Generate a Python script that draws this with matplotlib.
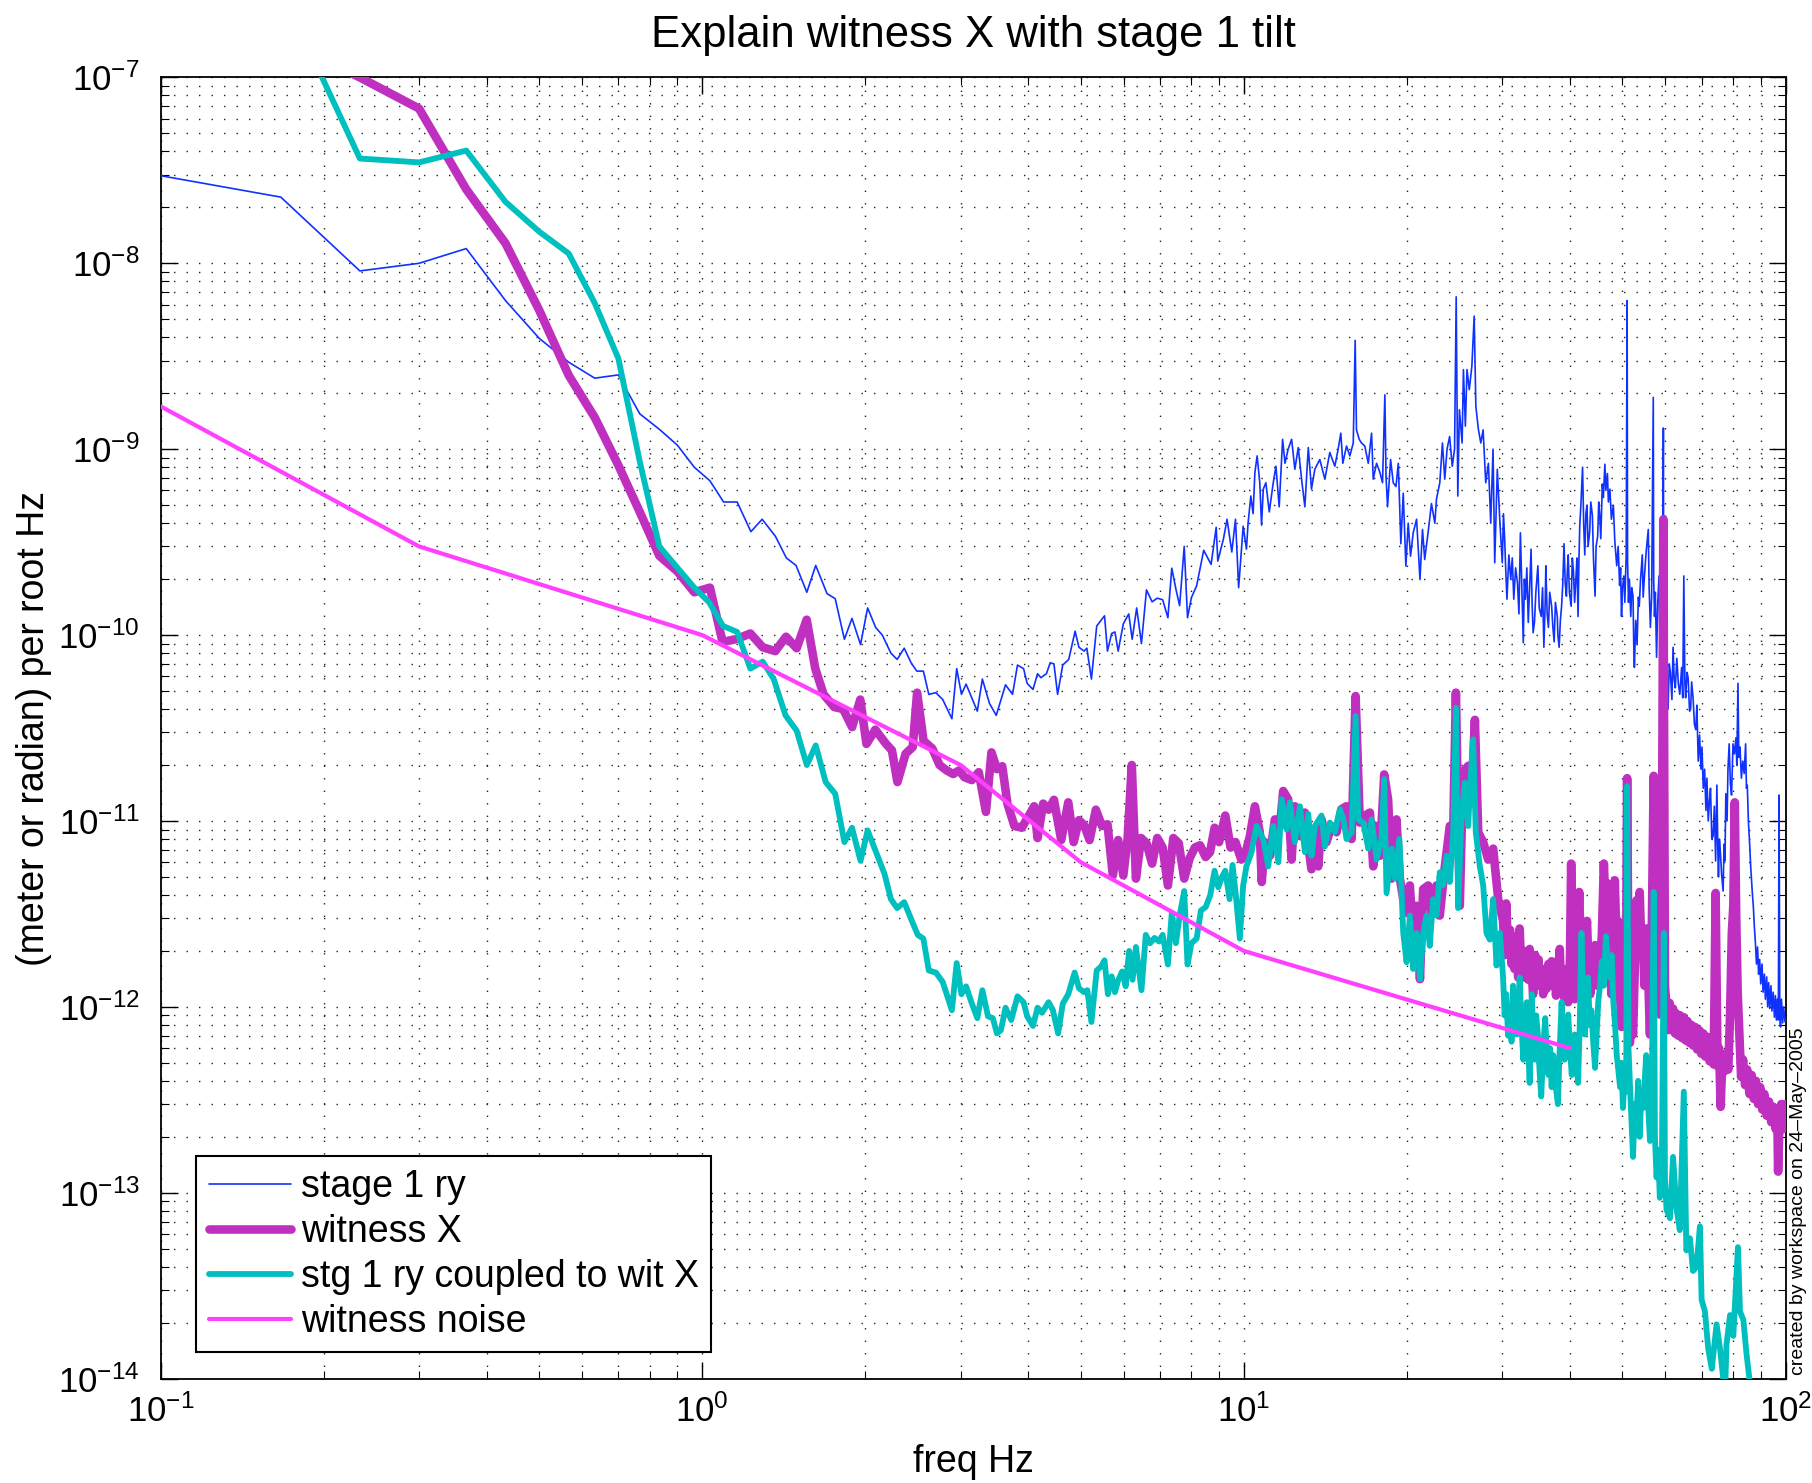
import numpy as np
import matplotlib
matplotlib.use("Agg")
import matplotlib.pyplot as plt
from matplotlib.ticker import LogLocator, NullFormatter

plt.rcParams['font.family'] = ['Liberation Sans', 'DejaVu Sans']
plt.rcParams['mathtext.fontset'] = 'custom'
plt.rcParams['mathtext.rm'] = 'Liberation Sans'
plt.rcParams['mathtext.it'] = 'Liberation Sans:italic'
plt.rcParams['mathtext.bf'] = 'Liberation Sans:bold'

# ---------------- spectra (freq in Hz, amplitude per root Hz) ----------------
# stage 1 ry
stage1_freq = [
    0.1, 0.1667, 0.2333, 0.3, 0.3667, 0.4333, 0.5, 0.5667, 0.6333, 0.7, 0.7667, 0.8333, 0.9, 0.9667, 1.0333,
    1.095, 1.16, 1.23, 1.29, 1.365, 1.43, 1.49, 1.56, 1.62, 1.70, 1.76, 1.83, 1.89, 1.96, 2.02, 2.09, 2.15,
    2.23, 2.29, 2.36, 2.43, 2.49, 2.56, 2.62, 2.70, 2.78, 2.89, 2.95, 3.01, 3.07, 3.22, 3.29, 3.39, 3.49,
    3.63, 3.74, 3.82, 3.92, 3.98, 4.08, 4.16, 4.22, 4.32, 4.39, 4.46, 4.53, 4.63, 4.75, 4.88, 4.96, 5.07,
    5.13, 5.23, 5.35, 5.53, 5.60, 5.70, 5.78, 5.86, 5.99, 6.13, 6.22, 6.34, 6.47, 6.61, 6.77, 6.92, 7.08,
    7.24, 7.36, 7.49, 7.61, 7.76, 7.87, 8.00, 8.18, 8.43, 8.70, 8.89, 8.95, 9.17, 9.31, 9.50, 9.65, 9.78,
    9.97, 10.11, 10.18, 10.30, 10.40, 10.48, 10.58, 10.70, 10.78, 10.86, 10.98, 11.14, 11.33, 11.46, 11.62,
    11.79, 11.91, 12.07, 12.25, 12.42, 12.60, 12.78, 12.96, 13.15, 13.33, 13.52, 13.81, 14.11, 14.41, 14.72,
    14.93, 15.10, 15.23, 15.47, 15.69, 15.92, 16.05, 16.14, 16.33, 16.49, 16.72, 16.97, 17.21, 17.33, 17.58,
    17.83, 18.03, 18.21, 18.30, 18.42, 18.66, 18.87, 19.09, 19.28, 19.49, 19.69, 19.91, 20.11, 20.31, 20.54,
    20.84, 21.14, 21.37, 21.57, 21.88, 22.20, 22.52, 22.68, 23.0, 23.26, 23.49, 23.72, 23.98, 24.25, 24.49,
    24.66, 24.83, 25.0, 25.29, 25.43, 25.64, 25.82, 26.07, 26.36, 26.62, 26.81, 27.11, 27.38, 27.65, 27.96,
    28.28, 28.56, 28.84, 29.05, 29.37, 29.70,
    30.0, 30.15, 30.3, 30.45, 30.6, 30.85, 31.1, 31.3, 31.5, 31.75, 32.0, 32.2, 32.4, 32.6, 32.8, 32.95,
    33.1, 33.3, 33.5, 33.7, 33.9, 34.05, 34.2,
    34.4, 34.6, 34.9, 35.1, 35.4, 35.6, 35.8, 36.0, 36.1, 36.3, 36.5, 36.7, 37.0, 37.2, 37.4, 37.6, 37.9,
    38.0, 38.2, 38.4, 38.6, 38.8, 39.0, 39.2, 39.4, 39.55, 39.7, 39.9, 40.2, 40.4, 40.6, 40.8, 41.0, 41.2,
    41.4, 41.55, 41.7, 41.9, 42.2, 42.4, 42.6, 42.8, 43.0, 43.2, 43.5, 43.7, 44.0, 44.2, 44.5, 44.7, 45.0,
    45.2, 45.4, 45.6, 45.9, 46.1, 46.4, 46.6, 46.9, 47.1, 47.4, 47.7, 48.1, 48.4, 48.8, 49.1, 49.4, 49.6,
    49.8, 50.0, 50.3, 50.5, 50.8, 51.0, 51.1, 51.3, 51.5, 51.8, 52.0, 52.3, 52.45, 52.6, 52.9, 53.2, 53.5,
    53.7, 54.0, 54.4, 54.6, 54.9, 55.3, 55.8, 56.0, 56.3, 56.6, 57.0, 57.1, 57.3, 57.5, 57.8, 58.1, 58.4,
    58.7, 59.0, 59.3, 59.5, 59.6, 59.8,
    60.2, 60.7, 61.0, 61.3, 61.7, 62.0, 62.3, 62.6, 63.0, 63.4, 63.8, 64.3, 64.6, 64.9, 65.2, 65.4, 65.8,
    66.1, 66.5, 66.8, 67.1, 67.5, 67.9, 68.3, 68.6, 69.0, 69.4, 69.8, 70.1, 70.5, 70.9, 71.3, 71.6, 72.0,
    72.4, 72.7, 73.1, 73.5, 73.9, 74.3, 74.7, 75.0, 75.2, 75.5, 75.8, 76.2, 76.7, 77.0, 77.3, 77.6, 78.0,
    78.3, 78.7, 79.1, 79.5, 80.0, 80.5, 81.0, 81.3, 81.7, 82.0, 82.4, 82.9, 83.4, 83.9, 84.4, 84.7, 85.0,
    85.4, 85.9, 86.3, 86.8, 87.2, 87.6, 88.0, 88.4, 88.8, 89.2, 89.6, 90.0, 90.5, 90.9, 91.4, 91.8, 92.3,
    92.7, 93.1, 93.5, 94.0, 94.4, 94.9, 95.4, 95.8, 96.2, 96.6, 97.0, 97.3, 97.6, 97.9, 98.3, 98.8, 99.2,
    99.8,
]
stage1_amp = [
    2.96e-8, 2.27e-8, 9.1e-9, 1.0e-8, 1.2e-8, 6.3e-9, 3.95e-9, 2.94e-9, 2.41e-9, 2.51e-9, 1.55e-9, 1.28e-9, 1.05e-9, 8.0e-10, 6.76e-10,
    5.2e-10, 5.2e-10, 3.6e-10, 4.2e-10, 3.4e-10, 2.6e-10, 2.37e-10, 1.7e-10, 2.37e-10, 1.67e-10, 1.57e-10, 9.5e-11, 1.23e-10, 8.9e-11, 1.4e-10, 1.1e-10, 1.0e-10,
    8.0e-11, 7.4e-11, 8.5e-11, 7.1e-11, 6.4e-11, 6.4e-11, 4.8e-11, 4.9e-11, 4.5e-11, 3.55e-11, 6.6e-11, 4.8e-11, 5.45e-11, 3.9e-11, 5.8e-11, 4.3e-11, 3.7e-11,
    5.4e-11, 4.8e-11, 6.9e-11, 6.6e-11, 5.5e-11, 5.1e-11, 6.2e-11, 5.9e-11, 6.2e-11, 7.1e-11, 7.0e-11, 4.8e-11, 6.9e-11, 7.4e-11, 1.05e-10, 8.6e-11, 8.2e-11,
    8.5e-11, 5.8e-11, 1.12e-10, 1.27e-10, 8.2e-11, 1.02e-10, 1.04e-10, 8.2e-11, 1.15e-10, 1.3e-10, 9.5e-11, 1.4e-10, 9.0e-11, 1.75e-10, 1.51e-10, 1.58e-10, 1.55e-10,
    1.24e-10, 2.29e-10, 1.77e-10, 1.44e-10, 3.0e-10, 1.24e-10, 1.59e-10, 1.84e-10, 2.86e-10, 2.4e-10, 3.8e-10, 2.5e-10, 3.3e-10, 4.2e-10, 2.8e-10, 4.2e-10, 1.8e-10,
    3.85e-10, 2.9e-10, 4.0e-10, 5.6e-10, 4.5e-10, 7.5e-10, 9.2e-10, 6.6e-10, 3.9e-10, 6.1e-10, 6.6e-10, 4.6e-10, 6.6e-10, 8.1e-10, 4.9e-10,
    1.13e-9, 8.4e-10, 1.0e-9, 1.13e-9, 7.8e-10, 1.02e-9, 6.9e-10, 4.9e-10, 1.02e-9, 6.1e-10, 7.8e-10, 8.8e-10, 6.9e-10, 9.6e-10, 8.1e-10,
    1.0e-9, 1.22e-9, 8.4e-10, 1.04e-9, 9.2e-10, 1.08e-9, 3.85e-9, 1.27e-9, 1.13e-9, 1.08e-9, 1.04e-9, 8.4e-10, 1.22e-9, 6.9e-10, 8.4e-10,
    7.5e-10, 6.6e-10, 1.96e-9, 7.1e-10, 4.9e-10, 8.8e-10, 6.6e-10, 6.3e-10, 8.4e-10, 3.1e-10, 5.8e-10, 2.35e-10, 4.0e-10, 2.66e-10, 3.55e-10,
    4.2e-10, 1.99e-10, 3.7e-10, 2.55e-10, 3.55e-10, 5.1e-10, 4.0e-10, 5.4e-10, 6.6e-10, 1.08e-9, 6.9e-10, 1.0e-9, 1.17e-9, 8.1e-10, 1.0e-9,
    6.6e-9, 5.6e-10, 1.63e-9, 1.08e-9, 2.68e-9, 1.33e-9, 2.68e-9, 2.09e-9, 2.8e-9, 5.2e-9, 1.7e-9, 1.27e-9, 1.08e-9, 1.27e-9, 6.6e-10,
    8.4e-10, 4.0e-10, 1.0e-9, 2.45e-10, 7.8e-10, 4.0e-10,
    2.45e-10, 4.5e-10, 3.3e-10, 2.2e-10, 1.56e-10, 2.7e-10, 1.99e-10, 2.6e-10, 1.56e-10, 2.3e-10, 1.91e-10, 1.3e-10, 3.55e-10, 1.8e-10, 9.1e-11, 2.0e-10,
    1.56e-10, 2.3e-10, 1.17e-10, 1.8e-10, 2.9e-10, 1.5e-10, 1.03e-10,
    1.18e-10, 1.7e-10, 2.36e-10, 1.4e-10, 1.26e-10, 1.8e-10, 8.6e-11, 1.5e-10, 2.36e-10, 1.3e-10, 1.1e-10, 1.7e-10, 1.43e-10, 1.1e-10, 9.2e-11, 1.5e-10, 1.26e-10,
    1.0e-10, 8.6e-11, 1.2e-10, 1.43e-10, 1.9e-10, 3.1e-10, 1.9e-10, 1.62e-10, 2.2e-10, 2.7e-10, 1.7e-10, 1.43e-10, 2.6e-10, 2.2e-10, 1.5e-10, 1.95e-10, 2.6e-10,
    1.26e-10, 2.5e-10, 3.9e-10, 5.0e-10, 8.0e-10, 4.0e-10, 2.7e-10, 4.5e-10, 5.0e-10, 3.0e-10, 3.6e-10, 5.2e-10, 4.4e-10, 2.6e-10, 1.62e-10, 3.0e-10, 3.4e-10,
    5.2e-10, 4.4e-10, 3.3e-10, 6.5e-10, 5.5e-10, 8.3e-10, 6.0e-10, 7.4e-10, 5.2e-10, 6.1e-10, 4.2e-10, 5.0e-10, 3.2e-10, 2.36e-10, 3.0e-10, 1.85e-10, 2.3e-10,
    1.26e-10, 1.8e-10, 2.08e-10, 1.5e-10, 2.7e-10, 6.3e-9, 2.5e-10, 1.5e-10, 2.0e-10, 1.26e-10, 1.8e-10, 1.62e-10, 9.0e-11, 6.7e-11, 1.2e-10, 8.9e-11, 1.6e-10,
    1.43e-10, 2.0e-10, 2.7e-10, 1.6e-10, 2.08e-10, 2.8e-10, 3.7e-10, 1.8e-10, 1.1e-10, 1.6e-10, 1.9e-9, 2.0e-10, 1.26e-10, 1.7e-10, 7.6e-11, 1.5e-10, 2.08e-10,
    9.0e-11, 5.9e-11, 1.0e-10, 1.3e-9, 1.2e-10, 8.6e-11,
    5.5e-11, 4.0e-11, 7.0e-11, 6.3e-11, 4.5e-11, 8.6e-11, 5.8e-11, 5.2e-11, 7.5e-11, 5.5e-11, 4.8e-11, 6.7e-11, 4.6e-11, 2.08e-10, 5.5e-11, 4.6e-11, 6.3e-11,
    5.9e-11, 3.9e-11, 4.0e-11, 5.6e-11, 4.6e-11, 3.3e-11, 3.1e-11, 4.2e-11, 2.1e-11, 2.9e-11, 1.9e-11, 2.5e-11, 1.5e-11, 1.9e-11, 1.14e-11, 1.7e-11, 1.0e-11,
    1.3e-11, 1.5e-11, 8.0e-12, 8.3e-12, 1.2e-11, 6.1e-12, 1.56e-11, 7.0e-12, 5.0e-12, 8.0e-12, 6.9e-12, 5.2e-12, 4.2e-12, 7.5e-12, 6.1e-12, 1.4e-11, 1.0e-11,
    1.9e-11, 2.6e-11, 1.6e-11, 1.38e-11, 2.6e-11, 2.3e-11, 2.8e-11, 2.0e-11, 5.5e-11, 2.2e-11, 2.5e-11, 1.7e-11, 2.1e-11, 1.8e-11, 2.6e-11, 1.5e-11, 1.56e-11,
    1.0e-11, 7.3e-12, 5.5e-12, 4.2e-12, 3.5e-12, 2.7e-12, 2.2e-12, 1.7e-12, 2.1e-12, 1.5e-12, 1.8e-12, 1.33e-12, 1.7e-12, 1.2e-12, 1.5e-12, 1.1e-12, 1.45e-12,
    1.0e-12, 1.35e-12, 9.8e-13, 1.3e-12, 9.5e-13, 1.2e-12, 8.8e-13, 1.15e-12, 8.5e-13, 1.1e-12, 8.5e-13, 1.38e-11, 9.0e-13, 7.8e-13, 1.1e-12, 8.2e-13, 1.0e-12,
    8.3e-13,
]

# witness X
witness_freq = [
    0.1667, 0.2333, 0.3, 0.3667, 0.4333, 0.5, 0.5667, 0.6333, 0.7, 0.7667, 0.8333, 0.9, 0.9667, 1.0333,
    1.09, 1.154, 1.227, 1.293, 1.364, 1.428, 1.494, 1.559, 1.617, 1.675, 1.753, 1.82, 1.891, 1.958, 2.01,
    2.087, 2.184, 2.24, 2.293, 2.374, 2.447, 2.493, 2.562, 2.66, 2.743, 2.827, 2.905, 2.98, 3.05, 3.145,
    3.24, 3.34, 3.42, 3.50, 3.58, 3.66, 3.77, 3.89, 4.01, 4.10, 4.16, 4.26, 4.36, 4.46, 4.60, 4.74, 4.85,
    4.96, 5.07, 5.19, 5.33, 5.47, 5.60, 5.73, 5.86, 5.99, 6.10, 6.21, 6.32, 6.46, 6.61, 6.77, 6.92, 7.08,
    7.24, 7.41, 7.58, 7.76, 7.94, 8.12, 8.30, 8.50, 8.66, 8.83, 9.0, 9.24, 9.45, 9.65, 9.89,
    10.04, 10.26, 10.48, 10.70, 10.79, 10.93, 11.17, 11.41, 11.66, 11.82, 12.07, 12.25, 12.42, 12.69, 12.96,
    13.15, 13.33, 13.52, 13.72, 13.91, 14.21, 14.51, 14.83, 15.15, 15.47, 15.81, 16.08, 16.37, 16.73, 17.09,
    17.33, 17.58, 17.83, 18.16, 18.46, 18.74, 19.13, 19.41, 19.69, 19.97, 20.25, 20.54, 20.84, 21.14, 21.43,
    21.89, 22.2, 22.68, 23.0, 23.5, 24.0, 24.35, 24.63, 25.04, 25.4, 25.95, 26.32, 26.7, 27.08, 27.66,
    28.25, 28.86, 29.48,
    30.1, 30.3, 30.5, 30.7, 31.0, 31.2, 31.4, 31.6, 31.9, 32.1, 32.3, 32.5, 32.8, 33.0, 33.3, 33.5, 33.7,
    34.0, 34.2, 34.5, 34.7, 35.0, 35.2, 35.5, 35.7, 36.0, 36.2, 36.5, 36.7, 37.0, 37.2, 37.5, 37.7, 38.0,
    38.3, 38.5, 38.8, 39.1, 39.4, 39.7, 40.0, 40.2, 40.5, 40.8, 41.2, 41.6, 41.9, 42.3, 42.6, 43.0, 43.3,
    43.6, 44.0, 44.5, 44.9, 45.4, 45.8, 46.2, 46.6, 47.1, 47.4, 47.7, 48.0, 48.4, 48.7, 49.1, 49.4, 49.8,
    50.1, 50.5, 50.8, 51.0, 51.3, 51.6, 52.0, 52.3, 52.7, 53.1, 53.4, 53.8, 54.2, 54.6, 54.9, 55.3, 55.8,
    56.2, 56.6, 57.1, 57.5, 57.8, 58.2, 58.6, 59.0, 59.5, 59.9,
    60.3, 60.7, 61.1, 61.6, 62.0, 62.5, 62.9, 63.4, 63.9, 64.4, 64.9, 65.4, 65.9, 66.5, 67.0, 67.5, 68.1,
    68.7, 69.3, 69.9, 70.5, 71.1, 71.8, 72.4, 73.0, 73.7, 74.3, 74.9, 75.4, 75.9, 76.5, 77.1, 77.8, 78.4,
    79.0, 79.6, 80.1, 80.6, 81.1, 81.6, 82.2, 82.8, 83.5, 84.2, 85.0, 85.8, 86.6, 87.4, 88.2, 89.0, 89.8,
    90.6, 91.4, 92.3, 93.2, 94.1, 95.0, 95.9, 96.6, 96.9, 97.4, 98.2, 99.0, 99.9,
]
witness_amp = [
    1.6e-7, 1.0e-7, 6.8e-8, 2.5e-8, 1.28e-8, 5.6e-9, 2.5e-9, 1.48e-9, 8.2e-10, 4.6e-10, 2.67e-10, 2.2e-10, 1.7e-10, 1.8e-10,
    9.2e-11, 9.5e-11, 1.02e-10, 8.6e-11, 8.2e-11, 9.8e-11, 8.5e-11, 1.21e-10, 6.6e-11, 4.8e-11, 4.1e-11, 4.0e-11, 3.2e-11, 4.5e-11, 2.6e-11,
    3.1e-11, 2.6e-11, 2.4e-11, 1.62e-11, 2.3e-11, 2.5e-11, 4.9e-11, 2.7e-11, 2.45e-11, 2.0e-11, 1.87e-11, 1.79e-11, 1.87e-11, 1.72e-11, 1.66e-11,
    1.83e-11, 1.12e-11, 2.34e-11, 1.9e-11, 1.97e-11, 1.24e-11, 9.4e-12, 9.2e-12, 1.07e-11, 1.2e-11, 8.1e-12, 1.24e-11, 1.15e-11, 1.3e-11, 7.9e-12, 1.26e-11, 7.7e-12,
    1.01e-11, 9.5e-12, 7.9e-12, 1.15e-11, 9.4e-12, 9.6e-12, 5.1e-12, 7.9e-12, 5.1e-12, 8.0e-12, 2.0e-11, 4.9e-12, 8.1e-12, 7.6e-12, 5.9e-12, 8.1e-12, 7.2e-12,
    4.5e-12, 8.1e-12, 7.6e-12, 4.9e-12, 6.3e-12, 7.2e-12, 7.4e-12, 6.4e-12, 6.8e-12, 9.2e-12, 7.7e-12, 1.07e-11, 7.2e-12, 7.7e-12, 6.2e-12,
    6.5e-12, 8.3e-12, 1.2e-11, 8.7e-12, 4.7e-12, 7.7e-12, 6.5e-12, 1.02e-11, 9.4e-12, 1.45e-11, 1.31e-11, 6.2e-12, 1.2e-11, 8.3e-12, 1.11e-11,
    7.3e-12, 5.5e-12, 9.0e-12, 5.7e-12, 1.02e-11, 7.7e-12, 9.4e-12, 8.7e-12, 1.16e-11, 1.2e-11, 8.0e-12, 4.7e-11, 9.8e-12, 1.07e-11, 1.11e-11,
    5.7e-12, 9.4e-12, 6.5e-12, 1.78e-11, 1.31e-11, 4.9e-12, 1.02e-11, 4.9e-12, 3.8e-12, 3.2e-12, 4.5e-12, 2.3e-12, 3.5e-12, 1.41e-12, 4.3e-12,
    4.5e-12, 3.2e-12, 4.5e-12, 3.1e-12, 5.7e-12, 9.4e-12, 8.7e-12, 4.9e-11, 3.5e-12, 1.82e-11, 1.98e-11, 1.31e-11, 3.5e-11, 8.7e-12, 7.7e-12,
    6.2e-12, 7.1e-12, 3.8e-12,
    2.9e-12, 1.9e-12, 3.6e-12, 2.2e-12, 2.6e-12, 1.7e-12, 2.4e-12, 1.6e-12, 2.0e-12, 1.44e-12, 2.64e-12, 1.6e-12, 2.0e-12, 1.44e-12, 1.9e-12, 1.4e-12, 2.05e-12,
    1.5e-12, 1.17e-12, 1.9e-12, 1.4e-12, 1.8e-12, 1.3e-12, 1.6e-12, 1.17e-12, 1.6e-12, 1.25e-12, 1.7e-12, 1.3e-12, 1.76e-12, 1.3e-12, 1.6e-12, 1.15e-12, 1.5e-12,
    2.05e-12, 1.3e-12, 1.6e-12, 1.1e-12, 1.5e-12, 1.06e-12, 1.8e-12, 5.9e-12, 1.9e-12, 1.1e-12, 1.7e-12, 4.15e-12, 1.9e-12, 1.3e-12, 2.0e-12, 2.9e-12, 1.6e-12,
    1.17e-12, 1.9e-12, 2.15e-12, 1.3e-12, 1.7e-12, 2.4e-12, 5.9e-12, 3.0e-12, 4.6e-12, 2.0e-12, 1.17e-12, 2.5e-12, 4.8e-12, 2.4e-12, 2.9e-12, 1.3e-12, 7.8e-13,
    1.5e-12, 1.0e-12, 2.0e-12, 1.7e-11, 1.5e-12, 6.4e-13, 9.0e-13, 7.1e-13, 1.6e-12, 3.75e-12, 2.2e-12, 4.15e-12, 2.0e-12, 2.15e-12, 1.3e-12, 2.64e-12, 1.4e-12,
    7.1e-13, 2.2e-12, 1.75e-11, 2.5e-12, 1.5e-12, 1.0e-12, 9.1e-13, 1.4e-12, 4.2e-10, 1.3e-12,
    1.0e-12, 7.5e-13, 1.05e-12, 7.8e-13, 9.8e-13, 7.2e-13, 9.2e-13, 7.0e-13, 9.0e-13, 6.8e-13, 8.8e-13, 6.6e-13, 8.4e-13, 6.4e-13, 8.0e-13, 6.2e-13, 7.8e-13,
    5.9e-13, 7.5e-13, 5.6e-13, 7.2e-13, 5.4e-13, 6.9e-13, 5.1e-13, 6.5e-13, 4.9e-13, 4.1e-12, 4.8e-13, 6.0e-13, 2.9e-13, 5.5e-13, 4.5e-13, 5.6e-13, 4.6e-13,
    9.0e-13, 2.5e-12, 3.5e-12, 1.26e-11, 3.0e-12, 1.2e-12, 7.0e-13, 4.2e-13, 5.2e-13, 3.8e-13, 4.6e-13, 3.4e-13, 4.3e-13, 3.2e-13, 4.0e-13, 3.0e-13, 3.7e-13,
    2.8e-13, 3.4e-13, 2.6e-13, 3.1e-13, 2.4e-13, 2.9e-13, 2.2e-13, 2.5e-13, 1.3e-13, 2.3e-13, 3.0e-13, 2.2e-13, 3.0e-13,
]

# stage 1 ry coupled to witness X
coupled_freq = [
    0.1667, 0.2333, 0.3, 0.3667, 0.4333, 0.5, 0.5667, 0.6333, 0.7, 0.7667, 0.8333, 0.9, 0.9667, 1.03,
    1.092, 1.16, 1.227, 1.293, 1.355, 1.425, 1.494, 1.56, 1.62, 1.69, 1.76, 1.83, 1.89, 1.96, 2.02, 2.09,
    2.17, 2.23, 2.29, 2.36, 2.43, 2.50, 2.56, 2.62, 2.70, 2.78, 2.89, 2.95, 3.01, 3.07, 3.14, 3.22, 3.29,
    3.37, 3.44, 3.50, 3.56, 3.63, 3.72, 3.82, 3.92, 3.98, 4.08, 4.16, 4.24, 4.36, 4.44, 4.54, 4.63, 4.74,
    4.87, 4.96, 5.07, 5.14, 5.23, 5.35, 5.45, 5.53, 5.61, 5.70, 5.78, 5.86, 5.96, 6.05, 6.14, 6.23, 6.32,
    6.47, 6.59, 6.71, 6.84, 6.97, 7.08, 7.24, 7.36, 7.49, 7.61, 7.76, 7.87, 8.00, 8.18, 8.33, 8.50, 8.67,
    8.83, 8.97, 9.11, 9.24, 9.41, 9.53, 9.68, 9.83, 9.97,
    10.11, 10.33, 10.55, 10.86, 11.09, 11.33, 11.58, 11.74, 11.99, 12.16, 12.42, 12.69, 12.96, 13.15, 13.33,
    13.52, 13.91, 14.11, 14.41, 14.72, 15.04, 15.27, 15.47, 15.81, 16.08, 16.26, 16.61, 16.97, 17.21, 17.58,
    17.95, 18.16, 18.34, 18.74, 19.01, 19.37, 19.69, 19.97, 20.25, 20.54, 20.84, 21.14, 21.43, 21.73, 22.04,
    22.36, 22.68, 23.0, 23.33, 23.66, 24.0, 24.35, 24.63, 24.86, 25.21, 25.57, 25.95, 26.13, 26.5, 26.8,
    27.27, 27.66, 28.05, 28.45, 28.86, 29.27, 29.69,
    30.1, 30.3, 30.5, 30.75, 31.0, 31.2, 31.4, 31.65, 31.9, 32.1, 32.3, 32.55, 32.8, 33.05, 33.3, 33.5,
    33.7, 33.85, 34.0, 34.2, 34.4, 34.65, 34.9, 35.15, 35.4, 35.7, 36.0, 36.25, 36.5, 36.75, 37.0, 37.25,
    37.5, 37.75, 38.0, 38.3, 38.6, 38.85, 39.1, 39.4, 39.7, 40.0, 40.3, 40.55, 40.8, 41.1, 41.4, 41.7,
    42.0, 42.3, 42.6, 42.9, 43.2, 43.5, 43.8, 44.15, 44.5, 44.8, 45.1, 45.45, 45.8, 46.2, 46.6, 47.0,
    47.4, 47.75, 48.1, 48.45, 48.8, 49.15, 49.5, 49.8, 50.1, 50.5, 50.8, 51.0, 51.3, 51.6, 51.95, 52.3,
    52.7, 53.1, 53.45, 53.8, 54.2, 54.6, 54.95, 55.3, 55.75, 56.2, 56.6, 57.1, 57.4, 57.8, 58.2, 58.6,
    59.1, 59.6, 59.9,
    60.3, 61.2, 62.0, 62.9, 63.8, 64.9, 65.6, 66.6, 67.5, 68.5, 69.5, 70.0, 71.0, 72.0, 73.1, 74.6, 75.7,
    76.7, 77.3, 77.8, 79.0, 80.1, 81.7, 82.4, 83.6, 84.7, 85.7, 88.0, 95.0, 100.0,
]
coupled_amp = [
    3.0e-7, 3.66e-8, 3.49e-8, 4.04e-8, 2.14e-8, 1.48e-8, 1.13e-8, 6.1e-9, 3.08e-9, 8.6e-10, 3.0e-10, 2.3e-10, 1.8e-10, 1.5e-10,
    1.12e-10, 1.04e-10, 6.6e-11, 7.2e-11, 5.8e-11, 3.7e-11, 3.06e-11, 2.0e-11, 2.55e-11, 1.62e-11, 1.4e-11, 7.7e-12, 9.2e-12, 6.1e-12, 8.9e-12, 6.9e-12,
    5.2e-12, 3.8e-12, 3.4e-12, 3.66e-12, 2.97e-12, 2.44e-12, 2.33e-12, 1.57e-12, 1.53e-12, 1.36e-12, 9.6e-13, 1.72e-12, 1.17e-12, 1.29e-12, 1.06e-12, 8.7e-13, 1.23e-12,
    8.9e-13, 8.7e-13, 7.2e-13, 7.5e-13, 9.9e-13, 8.5e-13, 1.14e-12, 1.06e-12, 8.9e-13, 7.9e-13, 9.9e-13, 9.3e-13, 1.06e-12, 9.6e-13, 7.2e-13, 1.04e-12, 1.17e-12,
    1.53e-12, 1.26e-12, 1.2e-12, 1.23e-12, 8.3e-13, 1.57e-12, 1.65e-12, 1.78e-12, 1.17e-12, 1.46e-12, 1.2e-12, 1.39e-12, 1.55e-12, 1.29e-12, 2.0e-12, 1.4e-12, 2.1e-12,
    1.23e-12, 2.44e-12, 2.2e-12, 2.35e-12, 2.25e-12, 2.44e-12, 1.69e-12, 3.2e-12, 2.2e-12, 3.1e-12, 4.2e-12, 1.69e-12, 2.2e-12, 2.33e-12, 3.3e-12, 3.44e-12, 4.0e-12,
    5.4e-12, 4.4e-12, 5.0e-12, 5.4e-12, 3.8e-12, 5.8e-12, 3.8e-12, 2.33e-12, 4.5e-12,
    5.7e-12, 6.8e-12, 9.4e-12, 8.0e-12, 5.7e-12, 9.4e-12, 6.0e-12, 1.31e-11, 9.0e-12, 1.26e-11, 7.7e-12, 1.2e-11, 6.8e-12, 1.09e-11, 6.5e-12,
    9.4e-12, 1.07e-11, 7.3e-12, 9.8e-12, 8.7e-12, 1.16e-11, 1.02e-11, 8.0e-12, 8.7e-12, 3.67e-11, 1.02e-11, 9.8e-12, 7.1e-12, 1.02e-11, 6.2e-12,
    8.0e-12, 1.68e-11, 4.1e-12, 7.1e-12, 4.9e-12, 8.0e-12, 2.5e-12, 1.74e-12, 3.1e-12, 1.6e-12, 2.5e-12, 1.41e-12, 2.5e-12, 3.1e-12, 2.13e-12,
    3.8e-12, 3.1e-12, 5.3e-12, 4.5e-12, 6.5e-12, 4.7e-12, 8.7e-12, 4.07e-11, 3.4e-12, 1.02e-11, 1.61e-11, 9.4e-12, 1.42e-11, 2.75e-11, 8.7e-12,
    5.7e-12, 4.5e-12, 2.5e-12, 2.3e-12, 3.8e-12, 1.67e-12, 2.5e-12,
    1.44e-12, 9.0e-13, 1.17e-12, 7.0e-13, 9.6e-13, 6.5e-13, 1.3e-12, 8.0e-13, 7.1e-13, 1.0e-12, 1.44e-12, 8.0e-13, 5.2e-13, 8.0e-13, 1.06e-12, 6.0e-13,
    3.9e-13, 7.0e-13, 1.17e-12, 7.0e-13, 5.2e-13, 9.0e-13, 7.1e-13, 4.5e-13, 3.3e-13, 6.0e-13, 8.7e-13, 5.5e-13, 4.3e-13, 6.0e-13, 3.7e-13, 5.5e-13,
    4.7e-13, 3.5e-13, 3.0e-13, 6.0e-13, 1.06e-12, 7.0e-13, 5.2e-13, 7.0e-13, 9.1e-13, 6.0e-13, 4.3e-13, 6.0e-13, 7.1e-13, 5.0e-13, 3.9e-13, 8.0e-13,
    2.5e-12, 1.1e-12, 7.1e-13, 9.0e-13, 1.44e-12, 8.0e-13, 9.6e-13, 6.5e-13, 4.7e-13, 7.0e-13, 1.06e-12, 1.3e-12, 1.76e-12, 1.3e-12, 2.4e-12, 1.7e-12,
    1.44e-12, 1.9e-12, 1.06e-12, 8.0e-13, 5.5e-13, 4.5e-13, 3.7e-13, 5.0e-13, 2.86e-13, 4.5e-13, 3.5e-13, 1.54e-11, 6.0e-13, 3.9e-13, 2.5e-13, 1.56e-13,
    3.0e-13, 2.6e-13, 4.0e-13, 2.0e-13, 3.5e-13, 2.86e-13, 4.0e-13, 5.5e-13, 3.0e-13, 1.9e-13, 2.6e-13, 4.15e-12, 2.0e-13, 1.21e-13, 1.7e-13, 9.4e-14,
    1.3e-13, 2.5e-12, 1.2e-13,
    8.1e-14, 7.3e-14, 1.56e-13, 8.3e-14, 6.3e-14, 3.5e-13, 4.9e-14, 5.7e-14, 3.8e-14, 4.0e-14, 6.6e-14, 2.66e-14, 2.3e-14, 1.45e-14, 1.13e-14, 1.96e-14, 1.45e-14,
    1.02e-14, 8.0e-15, 1.52e-14, 2.2e-14, 1.7e-14, 5.1e-14, 2.3e-14, 2.07e-14, 1.37e-14, 1.02e-14, 6.0e-15, 4.0e-15, 3.0e-15,
]

# witness sensor noise model
noise_freq = [0.1, 0.3, 1.0, 3.0, 5.0, 10.0, 40.0]
noise_amp = [1.7e-9, 3.0e-10, 1.0e-10, 2.0e-11, 6.0e-12, 2.0e-12, 6.0e-13]

legend_labels = ['stage 1 ry', 'witness X', 'stg 1 ry coupled to wit X', 'witness noise']
x_limits = (0.1, 100)
y_limits = (1e-14, 1e-7)

# ---------------- figure ----------------
fig = plt.figure(figsize=(18.12, 14.83), dpi=100)
ax = fig.add_axes([0.08863, 0.07033, 0.89675, 0.87748])
ax.set_xscale('log')
ax.set_yscale('log')

line_kw = dict(solid_capstyle='round', solid_joinstyle='round')
ax.plot(stage1_freq, stage1_amp, color='#1032ff', lw=1.2, label=legend_labels[0], zorder=3, **line_kw)
ax.plot(witness_freq, witness_amp, color='#c030c0', lw=6.2, label=legend_labels[1], zorder=4, **line_kw)
ax.plot(coupled_freq, coupled_amp, color='#00bfbf', lw=4.2, label=legend_labels[2], zorder=5, **line_kw)
ax.plot(noise_freq, noise_amp, color='#ff40ff', lw=3.0, label=legend_labels[3], zorder=6, **line_kw)

ax.set_xlim(*x_limits)
ax.set_ylim(*y_limits)

for axis in (ax.xaxis, ax.yaxis):
    axis.set_major_locator(LogLocator(base=10, numticks=20))
    axis.set_minor_locator(LogLocator(base=10, subs=np.arange(2, 10), numticks=200))
    axis.set_minor_formatter(NullFormatter())

ax.set_axisbelow(True)
ax.grid(True, which='both', color='#222222', linestyle=(0, (1, 8)), linewidth=1.0)

ax.tick_params(which='both', direction='in', top=True, right=True, colors='k')
ax.tick_params(which='major', length=12, width=1.0, labelsize=25)
ax.tick_params(axis='x', which='major', pad=11)
ax.tick_params(axis='y', which='major', pad=15)
ax.tick_params(which='minor', length=6, width=0.8)
for sp in ax.spines.values():
    sp.set_linewidth(1.3)
    sp.set_color('k')

ax.set_title('Explain witness X with stage 1 tilt', fontsize=31.5, pad=22)
ax.set_xlabel('freq Hz', fontsize=27)
ax.xaxis.set_label_coords(0.5, -0.050)
ax.set_ylabel('(meter or radian) per root Hz', fontsize=27)
ax.yaxis.set_label_coords(-0.0667, 0.5)

leg = ax.legend(loc='lower left', bbox_to_anchor=(0.022, 0.0205), borderaxespad=0,
                fontsize=27, frameon=True, fancybox=False, edgecolor='k', framealpha=1,
                handlelength=2.2, handletextpad=0.25, borderpad=0.33, labelspacing=0.24)
leg.get_frame().set_linewidth(1.5)

fig.text(0.9928, 0.0728, 'created by workspace on 24\u2013May\u20132005', rotation=90,
         ha='center', va='bottom', fontsize=14)

fig.savefig('out.png', dpi=100)
